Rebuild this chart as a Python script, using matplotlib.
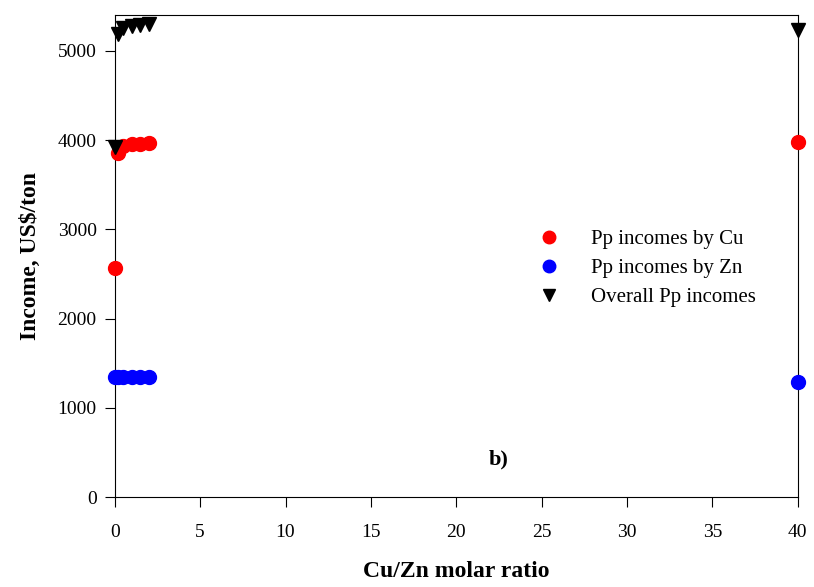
import matplotlib.pyplot as plt

plt.rcParams['font.family'] = ['Liberation Serif', 'DejaVu Serif']

# Cu/Zn molar ratio and incomes (US$/ton)
ratio = [0, 0.2, 0.5, 1, 1.5, 2, 40]
cu_income = [2570, 3860, 3930, 3955, 3960, 3965, 3980]
zn_income = [1350, 1350, 1350, 1348, 1350, 1348, 1290]
overall_income = [3920, 5190, 5260, 5280, 5290, 5300, 5235]

fig = plt.figure(figsize=(8.14, 5.87), dpi=100)
ax = fig.add_axes([0.141, 0.153, 0.839, 0.821])

ax.plot(ratio, cu_income, 'o', color='red', markersize=10, label='Pp incomes by Cu', clip_on=False, zorder=3)
ax.plot(ratio, zn_income, 'o', color='blue', markersize=10, label='Pp incomes by Zn', clip_on=False, zorder=3)
ax.plot(ratio, overall_income, 'v', color='black', markersize=10, label='Overall Pp incomes', clip_on=False, zorder=4)

ax.set_xlim(0, 40)
ax.set_ylim(0, 5400)
ax.set_xticks(range(0, 41, 5))
ax.set_yticks(range(0, 5001, 1000))
ax.tick_params(direction='out', length=7, labelsize=14, top=False, right=False, pad=6)
ax.tick_params(axis='x', pad=12)

ax.set_xlabel('Cu/Zn molar ratio', fontsize=17, fontweight='bold', labelpad=15)
ax.set_ylabel('Income, US$/ton', fontsize=17, fontweight='bold', labelpad=12)

ax.text(22.5, 420, 'b)', fontsize=16, fontweight='bold', ha='center', va='center')

ax.legend(loc='center left', bbox_to_anchor=(0.59, 0.475), frameon=False, fontsize=15,
          handletextpad=1.0, labelspacing=0.45, markerscale=0.9, borderpad=0)

fig.savefig('out.png', dpi=100)
